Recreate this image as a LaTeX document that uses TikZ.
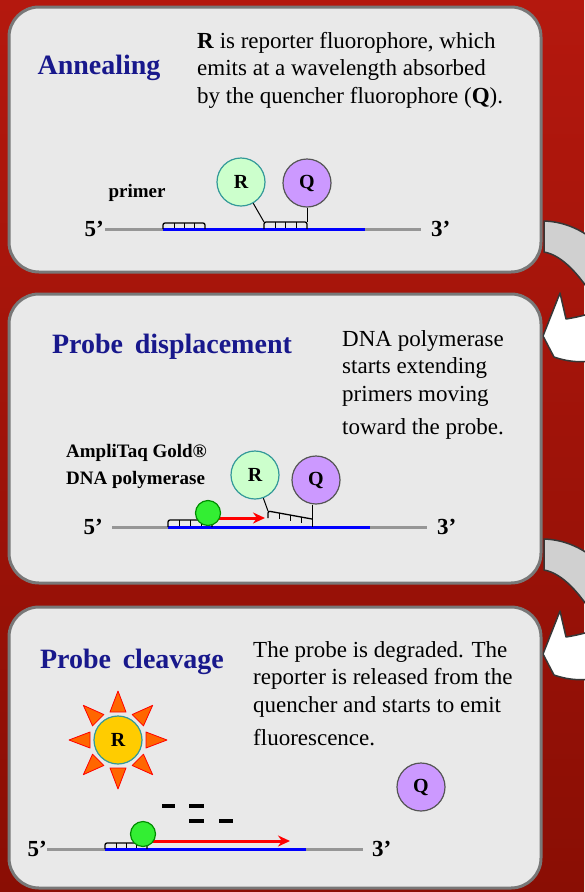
\documentclass[tikz,border=0pt]{standalone}
\usepackage{fontspec}
\setmainfont{Liberation Serif}
\usetikzlibrary{arrows.meta, positioning, calc}

\definecolor{bgtop}{RGB}{180,24,14}
\definecolor{bgbottom}{RGB}{138,14,4}
\definecolor{panelfill}{RGB}{233,233,233}
\definecolor{panelrim}{RGB}{120,120,120}
\definecolor{titleblue}{RGB}{24,24,140}
\definecolor{strandgray}{RGB}{150,150,150}
\definecolor{reportergreen}{RGB}{204,255,204}
\definecolor{reporterrim}{RGB}{51,153,153}
\definecolor{quencherpurple}{RGB}{204,153,255}
\definecolor{quencherrim}{RGB}{85,85,85}
\definecolor{polgreen}{RGB}{51,238,51}
\definecolor{polrim}{RGB}{0,140,0}
\definecolor{sunyellow}{RGB}{255,204,0}
\definecolor{rayorange}{RGB}{255,102,0}
\definecolor{foldgray}{RGB}{208,208,208}
\definecolor{rimdark}{RGB}{55,55,55}

\tikzset{
  panel/.style={draw=panelrim, line width=3pt, fill=panelfill, rounded corners=30pt},
  steptitle/.style={font=\fontsize{28}{30}\selectfont\bfseries, text=titleblue},
  note/.style={font=\fontsize{23}{27.5}\selectfont, align=left, anchor=north west, inner sep=0pt},
  tag/.style={font=\fontsize{19}{27}\selectfont\bfseries, align=left, inner sep=0pt},
  strandend/.style={font=\fontsize{23}{23}\selectfont\bfseries, inner sep=0pt},
  reporter/.style={circle, draw=reporterrim, fill=reportergreen, line width=1.2pt, minimum size=48pt, inner sep=0pt, font=\fontsize{20}{20}\selectfont\bfseries},
  quencher/.style={reporter, draw=quencherrim, fill=quencherpurple},
  polymerase/.style={circle, draw=polrim, fill=polgreen, line width=1.2pt, minimum size=25pt, inner sep=0pt},
  template/.style={draw=strandgray, line width=3pt},
  target/.style={draw=blue, line width=3pt},
  oligo/.style={draw=black, line width=1.3pt, rounded corners=2pt},
  linker/.style={draw=black, line width=1pt},
  extension/.style={draw=red, line width=3pt, -{Stealth[length=12pt, width=11pt]}},
  fragment/.style={draw=black, line width=4pt},
  ray/.style={fill=rayorange, draw=red, line width=0.8pt, line join=round},
  turn/.style={draw=rimdark, line width=1.5pt, line join=round},
}

\begin{document}
\begin{tikzpicture}[x=1pt, y=-1pt]
  \useasboundingbox (0,0) rectangle (584,892);
  \shade[top color=bgtop, bottom color=bgbottom] (0,0) rectangle (584,892);

  \foreach \dy in {0,318} {
    \begin{scope}[shift={(0,\dy)}]
      \filldraw[turn, fill=foldgray] (544,221) .. controls (578,222) and (610,245) .. (625,285)
        -- (595,300) .. controls (580,275) and (562,255) .. (544,252) -- cycle;
      \filldraw[turn, fill=white] (560,293) -- (566,319) .. controls (585,316) and (605,310) .. (625,298)
        -- (650,330) .. controls (620,360) and (585,368) .. (554,357) -- (543,336) -- cycle;
    \end{scope}
  }

  \draw[panel] (9,7) rectangle (541,272);
  \draw[panel] (9,294) rectangle (541,583);
  \draw[panel] (9,607) rectangle (541,888);

  % annealing
  \node[steptitle] (annealing) at (99,68) {Annealing};
  \node[note] (annealnote) at (197,32) {\textbf{R} is reporter fluorophore, which\\emits at a wavelength absorbed\\by the quencher fluorophore (\textbf{Q}).};
  \coordinate (tpl1a) at (105,229);
  \coordinate (tpl1b) at (421,229);
  \draw[template] (tpl1a) -- (tpl1b);
  \draw[target] (163,229) -- (365,229);
  \node[strandend, left=1pt of tpl1a] (five1) {5’};
  \node[strandend, right=10pt of tpl1b] (three1) {3’};
  \node[tag] (primer) at (137,193) {primer};
  \draw[oligo] (163,229) -- (163,223) -- (205,223) -- (205,229);
  \foreach \x in {174,184,194} \draw[linker] (\x,223) -- (\x,228);
  \draw[oligo] (264,229) -- (264,222) -- (307,222) -- (307,229);
  \foreach \x in {275,285,296} \draw[linker] (\x,222) -- (\x,228);
  \coordinate (probe1r) at (264,222);
  \coordinate (probe1q) at (307,222);
  \node[reporter] (r1) at (241,182) {R};
  \node[quencher] (q1) at (307,183) {Q};
  \draw[linker] (r1) -- (probe1r);
  \draw[linker] (q1) -- (probe1q);

  % displacement
  \node[steptitle] (displacement) at (172,347) {Probe\, displacement};
  \node[note] (displacenote) at (342,330) {DNA polymerase\\starts extending\\primers moving\\[6pt]toward the probe.};
  \node[tag, anchor=west] (taq) at (66,466) {AmpliTaq Gold®\\DNA polymerase};
  \coordinate (tpl2a) at (112,527);
  \coordinate (tpl2b) at (427,527);
  \draw[template] (tpl2a) -- (tpl2b);
  \draw[target] (168,527) -- (370,527);
  \node[strandend, left=9pt of tpl2a] (five2) {5’};
  \node[strandend, right=10pt of tpl2b] (three2) {3’};
  \draw[oligo] (168,527) -- (168,520) -- (212,520) -- (212,527);
  \foreach \x in {179,190,201} \draw[linker] (\x,520) -- (\x,526);
  \coordinate (ext2) at (208,518);
  \coordinate (tip2) at (265,518);
  \draw[extension] (ext2) -- (tip2);
  \node[polymerase] (pol2) at (208,513) {};
  \draw[oligo] (268,518) -- (268,511) -- (312,519);
  \foreach \x in {279,290,301} \draw[linker] (\x,{511+(\x-268)*8/44}) -- (\x,{517+(\x-268)*8/44});
  \coordinate (probe2r) at (268,511);
  \coordinate (probe2q) at (312,527);
  \node[reporter] (r2) at (255,475) {R};
  \node[quencher] (q2) at (316,480) {Q};
  \draw[linker] (r2) -- (probe2r);
  \draw[linker] (q2.south -| probe2q) -- (probe2q);

  % cleavage
  \node[steptitle] (cleavage) at (132,662) {Probe\, cleavage};
  \node[note] (cleavenote) at (253,641) {The probe is degraded. The\\reporter is released from the\\quencher and starts to emit\\[6pt]fluorescence.};
  \coordinate (sun) at (118,740);
  \foreach \a in {0,45,...,315}
    \filldraw[ray] ($(sun)+(\a:28)+(\a+90:8)$) -- ($(sun)+(\a:49)$) -- ($(sun)+(\a:28)+(\a-90:8)$) -- cycle;
  \node[reporter, fill=sunyellow] (r3) at (sun) {R};
  \node[quencher] (q3) at (421,787) {Q};
  \foreach \xa/\xb/\yy in {162/175/806, 189/204/806, 189/204/821, 219/233/821}
    \draw[fragment] (\xa,\yy) -- (\xb,\yy);
  \coordinate (tpl3a) at (47,849);
  \coordinate (tpl3b) at (363,849);
  \draw[template] (tpl3a) -- (tpl3b);
  \draw[target] (105,849) -- (306,849);
  \node[strandend, left=0pt of tpl3a] (five3) {5’};
  \node[strandend, right=9pt of tpl3b] (three3) {3’};
  \draw[oligo] (105,849) -- (105,843) -- (147,843) -- (147,849);
  \foreach \x in {116,126,136} \draw[linker] (\x,843) -- (\x,848);
  \coordinate (ext3) at (143,841);
  \coordinate (tip3) at (290,841);
  \draw[extension] (ext3) -- (tip3);
  \node[polymerase] (pol3) at (143,834) {};
\end{tikzpicture}
\end{document}
